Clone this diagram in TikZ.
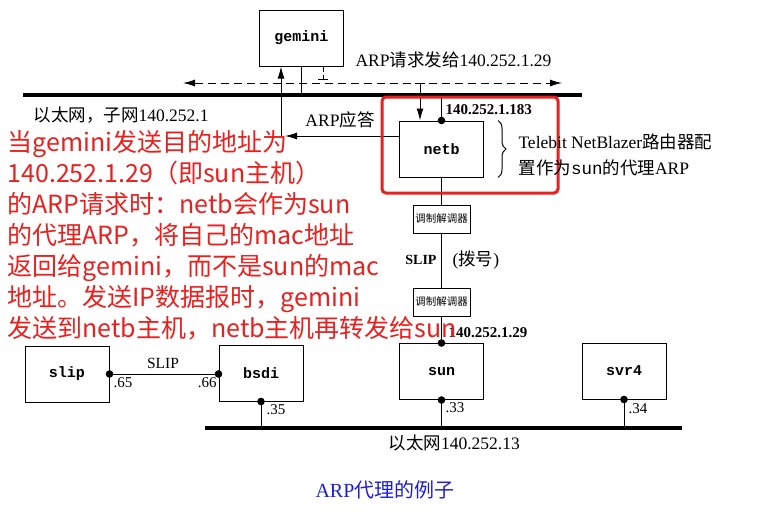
\documentclass[tikz,border=0pt]{standalone}
\usepackage{fontspec}
\setmainfont{Liberation Serif}
\setmonofont{Liberation Mono}
\newfontfamily\cjk{Noto Sans CJK SC}
\usepackage{xcolor}
\usetikzlibrary{arrows.meta, positioning, calc, decorations.pathreplacing}
\definecolor{notered}{RGB}{232,32,30}
\definecolor{capblue}{RGB}{30,30,215}
\newcommand{\zh}[1]{{\cjk #1}}

\tikzset{
  host/.style={draw, minimum width=84pt, minimum height=56pt, inner sep=0pt, font=\fontsize{15}{15}\ttfamily\bfseries},
  modem/.style={draw, minimum width=57pt, minimum height=28pt, inner sep=0pt, font=\fontsize{10.5}{10.5}\cjk},
  ether/.style={line width=4pt},
  lbl/.style={inner sep=0pt, font=\fontsize{17.5}{17.5}\selectfont},
  addr/.style={inner sep=0pt, font=\fontsize{15}{15}\selectfont\bfseries},
  suffix/.style={inner sep=0pt, font=\fontsize{15}{15}\selectfont},
  tip/.style={-{Latex[length=12pt,width=7pt]}}
}

\begin{document}
\begin{tikzpicture}[x=1pt, y=-1pt, line width=1pt]
      \useasboundingbox (0,0) rectangle (760,515);

      % hosts
      \node[host] (gemini) at (301.5,38) {gemini};
      \node[host] (netb) at (441.5,149) {netb};
      \node[modem] (modemA) at (441.5,219) {调制解调器};
      \node[modem] (modemB) at (441.5,302) {调制解调器};
      \node[host] (slip) at (67,374) {slip};
      \node[host] (bsdi) at (261,373) {bsdi};
      \node[host] (sun) at (441.5,371.5) {sun};
      \node[host] (svr4) at (624,371) {svr4};

      % ethernets
      \coordinate (topL) at (23,95);
      \coordinate (topR) at (582,95);
      \coordinate (botL) at (205,428);
      \coordinate (botR) at (682,428);
      \draw [ether] (topL) -- (topR);
      \draw [ether] (botL) -- (botR);

      % ARP request (broadcast)
      \coordinate (bcL) at (183,83);
      \coordinate (bcR) at (562,83);
      \draw [dash pattern=on 8pt off 5pt, {Latex[length=12pt,width=7pt]}-{Latex[length=12pt,width=7pt]}] (bcL) -- (bcR);
      \coordinate (gsend) at ([xshift=21.5pt]gemini.south);
      \draw [dash pattern=on 5pt off 3pt, -{Bar[width=10pt]}] (gsend) -- ([yshift=3pt]gsend |- bcL);
      \coordinate (nrecv) at ([xshift=-21.5pt]netb.north);
      \draw [{Bar[width=10pt]}-{Latex[length=12pt,width=7pt]}] (nrecv |- bcL) -- (nrecv);

      % ARP reply
      \coordinate (rpl) at (281,136);
      \draw [tip] (netb.west |- rpl) -- ([xshift=4pt]rpl);
      \draw [tip] ([yshift=-1pt]rpl) -- (gemini.south -| rpl);

      % links
      \draw (gemini.south) -- (gemini.south |- topL);
      \draw (netb.north) -- (netb.north |- topL);
      \draw (netb.south) -- (modemA.north);
      \draw (modemA.south) -- (modemB.north);
      \draw (modemB.south) -- (sun.north);
      \draw (slip.east) -- (slip.east -| bsdi.west);
      \draw (bsdi.south) -- (bsdi.south |- botL);
      \draw (sun.south) -- (sun.south |- botL);
      \draw (svr4.south) -- (svr4.south |- botL);
      \foreach \p in {netb.north, sun.north, slip.east, bsdi.south, sun.south, svr4.south}
        \fill (\p) circle (3.8pt);
      \fill (slip.east -| bsdi.west) circle (3.8pt);

      % proxy ARP
      \draw [notered, line width=3pt, rounded corners=4pt] (382,97) rectangle (558,193);
      \draw [decorate, decoration={brace, amplitude=8pt}] ([xshift=14pt]netb.north east) -- ([xshift=14pt]netb.south east);

      % labels
      \node[lbl, anchor=west] (lanA) at (33,115) {\zh{以太网，子网}140.252.1};
      \node[lbl] (replylbl) at (340,120) {ARP\zh{应答}};
      \node[lbl, anchor=west] (bclbl) at (355,60) {ARP\zh{请求发给}140.252.1.29};
      \node[addr, anchor=west] (netbip) at (445,110) {140.252.1.183};
      \node[lbl, anchor=west, align=left, font=\fontsize{17.5}{26}\selectfont] (note) at (518,155) {Telebit NetBlazer\zh{路由器配}\\\zh{置作为}{\ttfamily sun}\zh{的代理}ARP};
      \node[addr, anchor=east, font=\fontsize{14}{14}\selectfont\bfseries] (serial) at (437,260) {SLIP};
      \node[lbl, anchor=west] (dial) at (452,260) {(\zh{拨号})};
      \node[addr, anchor=west] (sunip) at (448,333) {140.252.1.29};
      \node[suffix, font=\fontsize{15.5}{15.5}\selectfont] (sliplink) at (163,363) {SLIP};
      \node[suffix, anchor=west] (s65) at (113,383) {.65};
      \node[suffix, anchor=east] (s66) at (217,383) {.66};
      \node[suffix, anchor=west] (s35) at (266,410) {.35};
      \node[suffix, anchor=west] (s33) at (445,408) {.33};
      \node[suffix, anchor=west] (s34) at (628,409) {.34};
      \node[lbl, anchor=west] (lanB) at (388,443) {\zh{以太网}140.252.13};
      \node[inner sep=0pt, text=capblue, font=\fontsize{20}{20}\selectfont] (caption) at (385,490) {ARP\zh{代理的例子}};

      % remark
      \node[anchor=west, align=left, inner sep=0pt, text=notered, font=\cjk\fontsize{25}{31}\selectfont] (remark) at (7,235) {当gemini发送目的地址为\\140.252.1.29（即sun主机）\\的ARP请求时：netb会作为sun\\的代理ARP，将自己的mac地址\\返回给gemini，而不是sun的mac\\地址。发送IP数据报时，gemini\\发送到netb主机，netb主机再转发给sun};
    \end{tikzpicture}
\end{document}
